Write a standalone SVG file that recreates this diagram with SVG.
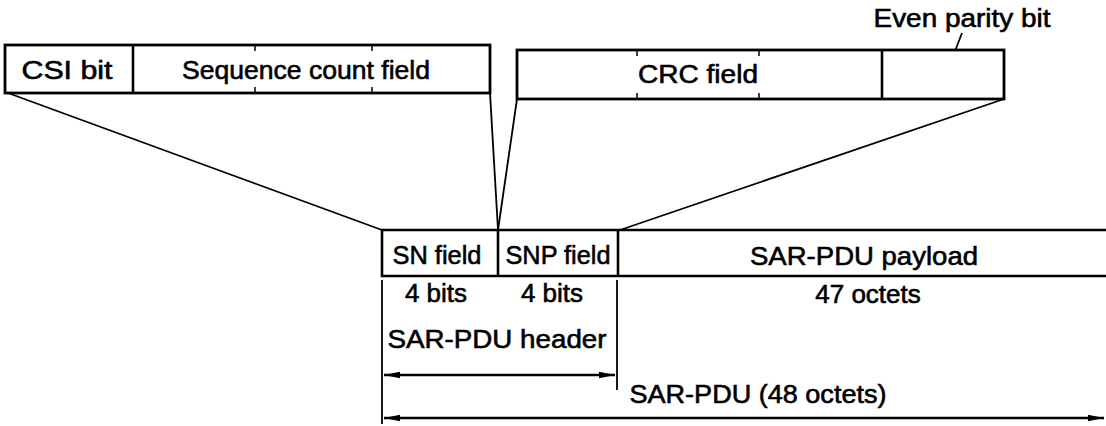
<svg xmlns="http://www.w3.org/2000/svg" width="1106" height="426" viewBox="0 0 1106 426">
<style>
.box{fill:#fff;stroke:#000;stroke-width:2.8}
.ln{stroke:#000;stroke-width:2.6;fill:none}
.thin{stroke:#000;stroke-width:1.8;fill:none}
.tk{stroke:#000;stroke-width:1.5}
text{font-family:"Liberation Sans",Arial,sans-serif;font-size:26px;fill:#000;stroke:#000;stroke-width:0.6;text-anchor:middle}
</style>
<defs>
<marker id="ah" viewBox="0 0 16 8" refX="16" refY="4" markerWidth="16" markerHeight="8" markerUnits="userSpaceOnUse" orient="auto-start-reverse">
<path d="M0,0.8 L16,4 L0,7.2 Z" fill="#000"/>
</marker>
</defs>
<rect width="1106" height="426" fill="#fff"/>
<g id="connectors">
<line class="thin" x1="8" y1="93" x2="382" y2="230"/>
<line class="thin" x1="490" y1="93" x2="498" y2="230"/>
<line class="thin" x1="517" y1="99" x2="498" y2="230"/>
<line class="thin" x1="1004" y1="99" x2="620" y2="230"/>
<line class="thin" x1="962" y1="33" x2="945" y2="77"/>
<line class="thin" x1="382" y1="280" x2="382" y2="424"/>
<line class="thin" x1="617" y1="280" x2="617" y2="390"/>
<line class="ln" x1="384" y1="375" x2="615" y2="375" marker-start="url(#ah)" marker-end="url(#ah)"/>
<line class="ln" x1="384" y1="418" x2="1104" y2="418" marker-start="url(#ah)" marker-end="url(#ah)"/>
</g>
<g id="sn-detail">
<rect class="box" x="5" y="45" width="485" height="48"/>
<line class="ln" x1="133" y1="45" x2="133" y2="93"/>
<line class="tk" x1="255" y1="45" x2="255" y2="51"/>
<line class="tk" x1="255" y1="87" x2="255" y2="93"/>
<line class="tk" x1="372" y1="45" x2="372" y2="51"/>
<line class="tk" x1="372" y1="87" x2="372" y2="93"/>
<text x="67" y="79" textLength="91" lengthAdjust="spacingAndGlyphs">CSI bit</text>
<text x="306" y="79" textLength="248" lengthAdjust="spacingAndGlyphs">Sequence count field</text>
</g>
<g id="snp-detail">
<rect class="box" x="517" y="50" width="487" height="49"/>
<line class="ln" x1="882" y1="50" x2="882" y2="99"/>
<line class="tk" x1="637" y1="50" x2="637" y2="56"/>
<line class="tk" x1="637" y1="93" x2="637" y2="99"/>
<line class="tk" x1="759" y1="50" x2="759" y2="56"/>
<line class="tk" x1="759" y1="93" x2="759" y2="99"/>
<text x="698" y="83" textLength="120" lengthAdjust="spacingAndGlyphs">CRC field</text>
</g>
<g id="parity-label">
<text x="962" y="27" textLength="177" lengthAdjust="spacingAndGlyphs">Even parity bit</text>
</g>
<g id="sar-pdu">
<path class="ln" d="M1106,230 H382 V276 H1106"/>
<line class="ln" x1="498" y1="230" x2="498" y2="276"/>
<line class="ln" x1="618" y1="230" x2="618" y2="276"/>
<text x="437" y="264" textLength="89" lengthAdjust="spacingAndGlyphs">SN field</text>
<text x="558" y="264" textLength="105" lengthAdjust="spacingAndGlyphs">SNP field</text>
<text x="864" y="265" textLength="228" lengthAdjust="spacingAndGlyphs">SAR-PDU payload</text>
</g>
<g id="sizes">
<text x="436" y="302">4 bits</text>
<text x="552" y="302">4 bits</text>
<text x="868" y="303">47 octets</text>
<text x="497" y="348" textLength="219" lengthAdjust="spacingAndGlyphs">SAR-PDU header</text>
<text x="758" y="403" textLength="257" lengthAdjust="spacingAndGlyphs">SAR-PDU (48 octets)</text>
</g>
</svg>
